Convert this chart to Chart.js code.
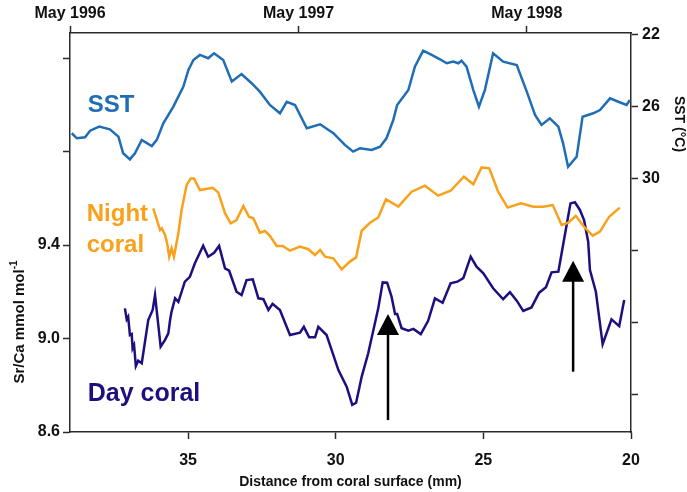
<!DOCTYPE html>
<html>
<head>
<meta charset="utf-8">
<script src="https://cdn.jsdelivr.net/npm/chart.js@4.4.0/dist/chart.umd.min.js"></script>
<style>
  html, body { margin: 0; padding: 0; background: #fff; }
  #wrap { width: 687px; height: 492px; }
</style>
</head>
<body>
<div id="wrap"><canvas id="grafica"></canvas></div>
<script>

// SST record (distance in mm, temperature in degC, right axis reversed)
var sstMm = [38.94, 38.77, 38.49, 38.32, 38.01, 37.65, 37.36, 37.20, 36.97, 36.80, 36.57, 36.23, 36.06, 35.84,
    35.50, 35.16, 34.99, 34.82, 34.60, 34.32, 34.12, 33.81, 33.52, 33.19, 32.85, 32.57, 32.23, 31.89, 31.66,
    31.38, 30.98, 30.53, 30.08, 29.69, 29.41, 29.18, 28.78, 28.50, 28.28, 28.05, 27.92, 27.54, 27.32, 27.04,
    26.75, 26.47, 26.24, 26.02, 25.85, 25.74, 25.57, 25.34, 25.15, 24.95, 24.67, 24.33, 23.87, 23.53, 23.25,
    23.03, 22.75, 22.46, 22.30, 22.13, 21.84, 21.64, 21.28, 21.05, 20.71, 20.43, 20.15, 20.04];
var sst = [27.46, 27.74, 27.68, 27.32, 27.09, 27.24, 27.65, 28.57, 28.91, 28.57, 27.83, 28.17, 27.83, 26.91,
    25.98, 24.87, 23.94, 23.39, 23.11, 23.29, 23.02, 23.39, 24.59, 24.17, 24.68, 25.15, 25.89, 26.35, 25.71,
    25.89, 27.18, 26.96, 27.46, 28.11, 28.48, 28.29, 28.39, 28.21, 27.74, 26.72, 25.89, 25.06, 23.76, 22.87,
    23.11, 23.35, 23.57, 23.48, 23.57, 23.43, 23.76, 25.06, 25.98, 25.06, 23.02, 23.48, 23.67, 25.15, 26.44,
    27.00, 26.63, 27.09, 28.02, 29.32, 28.76, 26.54, 26.35, 26.17, 25.52, 25.71, 25.89, 25.61];

// Night coral Sr/Ca (mmol/mol)
var nightMm = [36.18, 36.04, 35.95, 35.89, 35.78, 35.71, 35.64, 35.56, 35.48, 35.33, 35.22, 35.05, 34.91,
    34.80, 34.60, 34.17, 33.98, 33.75, 33.56, 33.36, 33.13, 32.94, 32.79, 32.57, 32.40, 32.23, 32.00, 31.80,
    31.55, 31.21, 30.93, 30.70, 30.53, 30.36, 30.08, 29.80, 29.52, 29.31, 29.12, 28.84, 28.56, 28.30, 27.88,
    27.43, 26.98, 26.53, 26.11, 25.66, 25.34, 25.06, 24.80, 24.50, 24.18, 23.73, 23.31, 22.97, 22.65, 22.35,
    22.13, 21.87, 21.59, 21.30, 21.05, 20.74, 20.38];
var nightSrCa = [9.557, 9.500, 9.464, 9.471, 9.443, 9.407, 9.350, 9.386, 9.350, 9.450, 9.550, 9.657, 9.685,
    9.685, 9.635, 9.645, 9.625, 9.536, 9.493, 9.507, 9.567, 9.521, 9.514, 9.453, 9.460, 9.439, 9.396, 9.396,
    9.376, 9.393, 9.382, 9.357, 9.379, 9.350, 9.343, 9.296, 9.329, 9.347, 9.461, 9.495, 9.518, 9.596, 9.564,
    9.628, 9.654, 9.611, 9.632, 9.692, 9.660, 9.732, 9.728, 9.628, 9.560, 9.578, 9.564, 9.564, 9.571, 9.486,
    9.495, 9.525, 9.478, 9.440, 9.457, 9.521, 9.560];

// Day coral Sr/Ca (mmol/mol)
var dayMm = [37.14, 37.08, 37.03, 36.97, 36.91, 36.88, 36.83, 36.77, 36.69, 36.57, 36.35, 36.20, 36.12, 36.04,
    35.93, 35.78, 35.67, 35.61, 35.56, 35.44, 35.33, 35.11, 34.94, 34.77, 34.49, 34.32, 34.12, 33.95, 33.75,
    33.61, 33.36, 33.19, 33.02, 32.81, 32.62, 32.45, 32.28, 32.14, 31.89, 31.55, 31.21, 31.08, 30.90, 30.70,
    30.59, 30.31, 30.14, 29.91, 29.63, 29.44, 29.31, 29.12, 28.90, 28.56, 28.41, 28.26, 28.11, 27.99, 27.92,
    27.77, 27.54, 27.37, 27.12, 26.87, 26.64, 26.38, 26.11, 25.88, 25.68, 25.43, 25.23, 25.00, 24.67, 24.33,
    24.10, 23.87, 23.65, 23.37, 23.11, 22.88, 22.69, 22.46, 22.30, 22.13, 22.05, 21.90, 21.73, 21.59, 21.45,
    21.39, 21.19, 20.96, 20.66, 20.40, 20.23];
var daySrCa = [9.129, 9.082, 9.093, 9.015, 9.019, 8.958, 8.972, 8.882, 8.905, 8.894, 9.079, 9.122, 9.186,
    9.093, 8.965, 8.994, 9.022, 9.079, 9.115, 9.172, 9.157, 9.243, 9.264, 9.322, 9.397, 9.350, 9.367, 9.396,
    9.300, 9.290, 9.200, 9.186, 9.250, 9.253, 9.172, 9.168, 9.122, 9.148, 9.122, 9.015, 9.025, 9.050, 9.005,
    9.005, 9.050, 9.015, 8.951, 8.865, 8.794, 8.716, 8.725, 8.837, 8.937, 9.129, 9.240, 9.239, 9.179, 9.105,
    9.105, 9.044, 9.033, 9.041, 9.019, 9.076, 9.172, 9.153, 9.236, 9.243, 9.258, 9.350, 9.307, 9.279, 9.215,
    9.168, 9.198, 9.162, 9.118, 9.133, 9.196, 9.219, 9.283, 9.286, 9.400, 9.521, 9.578, 9.583, 9.550, 9.507,
    9.414, 9.293, 9.200, 8.976, 9.082, 9.053, 9.165];

// axis ticks
var distTicks = [20, 25, 30, 35];
var srcaTicks = [8.6, 9.0, 9.4, 9.8, 10.2];
var srcaLabels = ['8.6', '9.0', '9.4', '', ''];
var sstTicks = [22, 26, 30, 34, 38, 42];
var sstLabels = ['22', '26', '30', '', '', ''];
var dateTicks = [39, 31.26, 23.53];
var dateLabels = ['May 1996', 'May 1997', 'May 1998'];

// arrows (distance mm, Sr/Ca of tail and tip)
var arrowMm = [28.23, 21.96];
var arrowTail = [8.651, 8.858];
var arrowTip = [9.105, 9.333];

var azulSST = '#1f6db5';
var naranja = '#f9a11b';
var marino = '#1d0f80';
var ejeColor = '#2b2b2b';

function pares(xs, ys) {
    return xs.map(function(x, i) { return { x: x, y: ys[i] }; });
}

function fijarTicks(valores) {
    return function(scale) {
        scale.ticks = valores.map(function(v) { return { value: v }; });
    };
}

var fuenteTick = { family: 'Liberation Sans, Arial, sans-serif', size: 16, weight: 'bold' };

function ejeBase(extra) {
    var base = {
        type: 'linear',
        grid: { drawOnChartArea: false, tickLength: 7, tickColor: ejeColor, tickWidth: 1.5 },
        border: { color: ejeColor, width: 1.5 },
        ticks: { font: fuenteTick, color: '#111', autoSkip: false, maxRotation: 0 }
    };
    for (var k in extra) {
        if (k === 'ticks') {
            for (var t in extra.ticks) base.ticks[t] = extra.ticks[t];
        } else {
            base[k] = extra[k];
        }
    }
    return base;
}

/* text labels, arrows and rotated axis titles */
var anotaciones = {
    id: 'anotaciones',
    afterDatasetsDraw: function(chart) {
        var ctx = chart.ctx;
        var xs = chart.scales.x;
        var ys = chart.scales.y;

        ctx.save();
        ctx.fillStyle = '#000';
        ctx.strokeStyle = '#000';
        ctx.lineWidth = 2.5;
        for (var i = 0; i < arrowMm.length; i++) {
            var px = xs.getPixelForValue(arrowMm[i]);
            var y0 = ys.getPixelForValue(arrowTail[i]);
            var y1 = ys.getPixelForValue(arrowTip[i]);
            ctx.beginPath();
            ctx.moveTo(px, y0);
            ctx.lineTo(px, y1 + 18);
            ctx.stroke();
            ctx.beginPath();
            ctx.moveTo(px, y1);
            ctx.lineTo(px - 11, y1 + 21);
            ctx.lineTo(px + 11, y1 + 21);
            ctx.closePath();
            ctx.fill();
        }
        ctx.restore();
    },
    afterDraw: function(chart) {
        var ctx = chart.ctx;
        var area = chart.chartArea;
        var xs = chart.scales.x;
        var ys = chart.scales.y;
        var left = xs.getPixelForValue(38.4);

        ctx.save();
        ctx.textAlign = 'left';
        ctx.textBaseline = 'alphabetic';

        ctx.font = 'bold 24px Liberation Sans, Arial, sans-serif';
        ctx.fillStyle = azulSST;
        ctx.fillText('SST', left, ys.getPixelForValue(9.97));

        ctx.fillStyle = naranja;
        ctx.fillText('Night', left - 1, ys.getPixelForValue(9.503));
        ctx.fillText('coral', left - 1, ys.getPixelForValue(9.37));

        ctx.font = 'bold 25px Liberation Sans, Arial, sans-serif';
        ctx.fillStyle = marino;
        ctx.fillText('Day coral', left, ys.getPixelForValue(8.733));

        // left title with superscript
        ctx.fillStyle = '#111';
        ctx.translate(20, 322);
        ctx.rotate(-Math.PI / 2);
        ctx.font = 'bold 15px Liberation Sans, Arial, sans-serif';
        var txt = 'Sr/Ca mmol mol';
        var w = ctx.measureText(txt).width;
        ctx.font = 'bold 10px Liberation Sans, Arial, sans-serif';
        var wSup = ctx.measureText('-1').width;
        var start = -(w + wSup) / 2;
        ctx.font = 'bold 15px Liberation Sans, Arial, sans-serif';
        ctx.textBaseline = 'middle';
        ctx.fillText(txt, start, 0);
        ctx.font = 'bold 10px Liberation Sans, Arial, sans-serif';
        ctx.fillText('-1', start + w, -6);
        ctx.restore();

        // right title
        ctx.save();
        ctx.fillStyle = '#111';
        ctx.translate(679, 124);
        ctx.rotate(Math.PI / 2);
        ctx.font = 'bold 14px Liberation Sans, Arial, sans-serif';
        ctx.textAlign = 'center';
        ctx.textBaseline = 'middle';
        ctx.fillText('SST (\u00B0C)', 0, 0);
        ctx.restore();
    }
};

var config = {
    type: 'line',
    data: {
        datasets: [{
            label: 'SST',
            data: pares(sstMm, sst),
            yAxisID: 'ySST',
            borderColor: azulSST,
            borderWidth: 2.5,
            pointRadius: 0,
            tension: 0
        }, {
            label: 'Night coral',
            data: pares(nightMm, nightSrCa),
            yAxisID: 'y',
            borderColor: naranja,
            borderWidth: 2.5,
            pointRadius: 0,
            tension: 0
        }, {
            label: 'Day coral',
            data: pares(dayMm, daySrCa),
            yAxisID: 'y',
            borderColor: marino,
            borderWidth: 2.5,
            pointRadius: 0,
            tension: 0
        }]
    },
    options: {
        responsive: true,
        maintainAspectRatio: false,
        animation: false,
        layout: { padding: 0 },
        plugins: {
            legend: { display: false },
            tooltip: { enabled: false }
        },
        scales: {
            x: ejeBase({
                position: 'bottom',
                min: 20,
                max: 39,
                reverse: true,
                afterBuildTicks: fijarTicks(distTicks),
                afterFit: function(s) { s.height = 60; },
                ticks: { padding: 12 },
                title: {
                    display: true,
                    text: 'Distance from coral surface (mm)',
                    font: { family: 'Liberation Sans, Arial, sans-serif', size: 14, weight: 'bold' },
                    color: '#111',
                    padding: { top: 0, bottom: 1 }
                }
            }),
            xFecha: ejeBase({
                position: 'top',
                min: 20,
                max: 39,
                reverse: true,
                afterBuildTicks: fijarTicks(dateTicks),
                afterFit: function(s) { s.height = 33; },
                ticks: {
                    padding: 3,
                    callback: function(v) {
                        var i = dateTicks.indexOf(v);
                        return i >= 0 ? dateLabels[i] : '';
                    }
                }
            }),
            y: ejeBase({
                position: 'left',
                min: 8.6,
                max: 10.307,
                afterBuildTicks: fijarTicks(srcaTicks),
                afterFit: function(s) { s.width = 70; },
                ticks: {
                    padding: 3,
                    callback: function(v) {
                        var i = srcaTicks.indexOf(v);
                        return i >= 0 ? srcaLabels[i] : '';
                    }
                }
            }),
            ySST: ejeBase({
                position: 'right',
                min: 21.89,
                max: 44.06,
                reverse: true,
                afterBuildTicks: fijarTicks(sstTicks),
                afterFit: function(s) { s.width = 56; },
                ticks: {
                    padding: 4,
                    callback: function(v) {
                        var i = sstTicks.indexOf(v);
                        return i >= 0 ? sstLabels[i] : '';
                    }
                }
            })
        }
    },
    plugins: [anotaciones]
};

var ctx = document.getElementById('grafica').getContext('2d');
window.miGrafica = new Chart(ctx, config);

</script>
</body>
</html>
